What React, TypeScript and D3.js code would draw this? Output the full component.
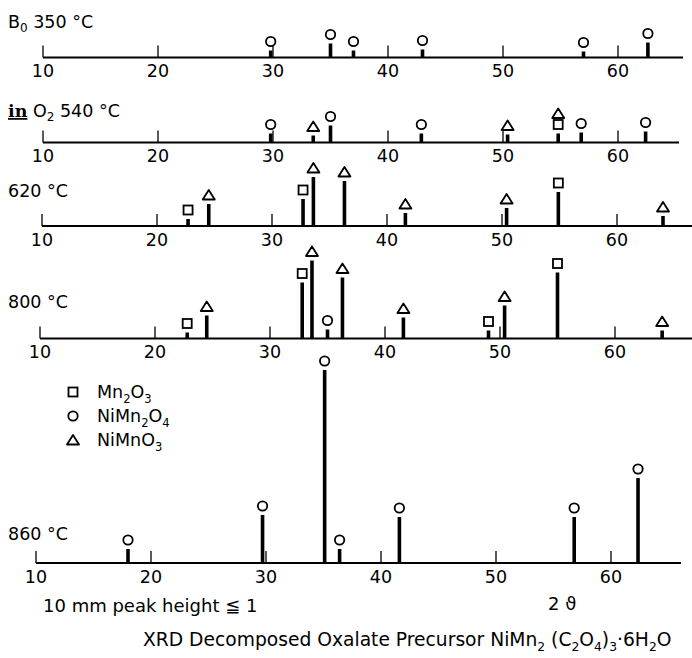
// XRD stick patterns of the decomposed oxalate precursor at five temperatures,
// drawn as stacked 2θ axes with phase markers above each reflection.

import React from 'react';
import * as d3 from 'd3';

const W = 692;
const H = 658;
const FONT = '"DejaVu Sans", sans-serif';

// [2θ in degrees, peak height in mm, phase codes: s = Mn2O3, o = NiMn2O4, t = NiMnO3]
type Peak = [number, number, string];

const thetaTicks = [10, 20, 30, 40, 50, 60];

const peaks350: Peak[] = [
  [29.8, 7, 'o'],
  [35.0, 14, 'o'],
  [37.0, 7, 'o'],
  [43.0, 8, 'o'],
  [57.0, 6, 'o'],
  [62.6, 15, 'o'],
];

const peaks540: Peak[] = [
  [29.8, 9, 'o'],
  [33.5, 7, 't'],
  [35.0, 17, 'o'],
  [42.9, 9, 'o'],
  [50.4, 8, 't'],
  [54.8, 9, 'st'],
  [56.8, 10, 'o'],
  [62.4, 11, 'o'],
];

const peaks620: Peak[] = [
  [22.7, 7, 's'],
  [24.5, 22, 't'],
  [32.7, 27, 's'],
  [33.6, 49, 't'],
  [36.3, 45, 't'],
  [41.6, 13, 't'],
  [50.4, 18, 't'],
  [54.9, 34, 's'],
  [64.0, 10, 't'],
];

const peaks800: Peak[] = [
  [22.8, 6, 's'],
  [24.5, 23, 't'],
  [32.8, 56, 's'],
  [33.65, 78, 't'],
  [35.0, 9, 'o'],
  [36.3, 61, 't'],
  [41.6, 21, 't'],
  [49.0, 8, 's'],
  [50.4, 33, 't'],
  [55.0, 66, 's'],
  [64.1, 8, 't'],
];

const peaks860: Peak[] = [
  [18.0, 14, 'o'],
  [29.7, 48, 'o'],
  [35.1, 193, 'o'],
  [36.4, 14, 'o'],
  [41.6, 46, 'o'],
  [56.8, 46, 'o'],
  [62.35, 85, 'o'],
];

const legendPhases: [string, [string, boolean][]][] = [
  ['s', [['Mn', false], ['2', true], ['O', false], ['3', true]]],
  ['o', [['NiMn', false], ['2', true], ['O', false], ['4', true]]],
  ['t', [['NiMnO', false], ['3', true]]],
];

// layout of each strip: baseline y, x of 10°, right end of the axis line
const panels = [
  { peaks: peaks350, base: 57.5, x10: 43, xEnd: 683, labelY: 28 },
  { peaks: peaks540, base: 142.5, x10: 43, xEnd: 679, labelY: 117 },
  { peaks: peaks620, base: 226, x10: 42, xEnd: 692, labelY: 197 },
  { peaks: peaks800, base: 338.5, x10: 40, xEnd: 692, labelY: 308 },
  { peaks: peaks860, base: 563, x10: 36, xEnd: 681, labelY: 540 },
];

const PX_PER_DEG = 11.5;

const heightScale = d3.scaleLinear().domain([0, 200]).range([0, 200]);

const Sub = ({ parts, size }: { parts: [string, boolean][]; size: number }) => (
  <>
    {parts.map(([s, sub], i) => (
      <tspan
        key={i}
        fontSize={sub ? size * 0.66 : size}
        dy={sub ? size * 0.28 : i > 0 && parts[i - 1][1] ? -size * 0.28 : 0}
      >
        {s}
      </tspan>
    ))}
  </>
);

const Marker = ({ kind, x, y }: { kind: string; x: number; y: number }) => {
  const sw = 1.8;
  if (kind === 's')
    return <rect x={x - 4.5} y={y - 4.5} width={9} height={9} fill="white" stroke="black" strokeWidth={sw} />;
  if (kind === 'o') return <circle cx={x} cy={y} r={4.7} fill="white" stroke="black" strokeWidth={sw} />;
  const tri = d3.line()([
    [x - 6, y + 4.5],
    [x + 6, y + 4.5],
    [x, y - 5],
  ]);
  return <path d={tri + 'Z'} fill="white" stroke="black" strokeWidth={sw} strokeLinejoin="round" />;
};

const labels = [
  <>
    <tspan>B</tspan>
    <tspan fontSize={12} dy={4}>0</tspan>
    <tspan dy={-4}>{'  350 °C'}</tspan>
  </>,
  <>
    <tspan fontFamily='"DejaVu Serif", serif' fontWeight="bold" textDecoration="underline">in</tspan>
    <tspan>{' O'}</tspan>
    <tspan fontSize={12} dy={4}>2</tspan>
    <tspan dy={-4}>{' 540 °C'}</tspan>
  </>,
  <tspan>620 °C</tspan>,
  <tspan>800 °C</tspan>,
  <tspan>860 °C</tspan>,
];

const Panel = ({ p, label }: { p: (typeof panels)[number]; label: React.ReactNode }) => {
  const x = d3
    .scaleLinear()
    .domain([10, 10 + (p.xEnd - p.x10) / PX_PER_DEG])
    .range([p.x10, p.xEnd]);
  return (
    <g>
      <text x={8} y={p.labelY} fontSize={17.5}>
        {label}
      </text>
      <line x1={x(10)} x2={p.xEnd} y1={p.base} y2={p.base} stroke="black" strokeWidth={1.8} />
      {thetaTicks.map((t) => (
        <g key={t}>
          <line x1={x(t)} x2={x(t)} y1={p.base} y2={p.base - 12} stroke="black" strokeWidth={1.3} />
          <text x={x(t)} y={p.base + 19.5} fontSize={17.5} textAnchor="middle">
            {t}
          </text>
        </g>
      ))}
      {p.peaks.map(([t, h, ph], i) => {
        const top = p.base - heightScale(h);
        return (
          <g key={i}>
            <line x1={x(t)} x2={x(t)} y1={p.base} y2={top} stroke="black" strokeWidth={3.6} />
            {ph.split('').map((k, j) => (
              <Marker key={k} kind={k} x={x(t)} y={top - 9 - j * 11} />
            ))}
          </g>
        );
      })}
    </g>
  );
};

export default function App() {
  return (
    <svg
      width={W}
      height={H}
      style={{ position: 'absolute', left: 0, top: 0, background: 'white' }}
      fontFamily={FONT}
    >
      <rect width={W} height={H} fill="white" />
      {panels.map((p, i) => (
        <Panel key={i} p={p} label={labels[i]} />
      ))}
      {legendPhases.map(([k, parts], i) => (
        <g key={k}>
          <Marker kind={k} x={73} y={392 + i * 24} />
          <text x={97} y={398 + i * 24} fontSize={17.5}>
            <Sub parts={parts} size={17.5} />
          </text>
        </g>
      ))}
      <text x={43} y={612} fontSize={18}>
        10 mm peak height ≦ 1
      </text>
      <text x={548} y={610} fontSize={18}>
        2 ϑ
      </text>
      <text x={143} y={646} fontSize={18.7}>
        <Sub
          parts={[
            ['XRD Decomposed Oxalate Precursor NiMn', false],
            ['2', true],
            [' (C', false],
            ['2', true],
            ['O', false],
            ['4', true],
            [')', false],
            ['3', true],
            ['·6H', false],
            ['2', true],
            ['O', false],
          ]}
          size={18.7}
        />
      </text>
    </svg>
  );
}
